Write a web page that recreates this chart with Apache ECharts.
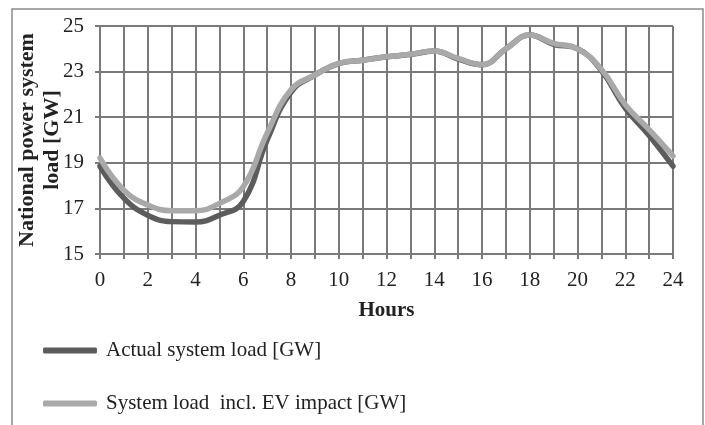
<!DOCTYPE html>
<html>
<head>
<meta charset="utf-8">
<script src="https://cdn.jsdelivr.net/npm/echarts@6/dist/echarts.min.js"></script>
<style>html,body{margin:0;padding:0;background:#fff}#c{width:705px;height:425px}</style>
</head>
<body>
<div id="c"></div>
<script>
var hours = [0,1,2,3,4,5,6,7,8,9,10,11,12,13,14,15,16,17,18,19,20,21,22,23,24];
var actualLoad = [18.85,17.45,16.7,16.42,16.4,16.7,17.3,20.0,22.1,22.85,23.35,23.5,23.65,23.75,23.9,23.55,23.3,24.0,24.6,24.2,24.0,23.05,21.4,20.2,18.85];
var evLoad = [19.2,17.8,17.15,16.9,16.9,17.22,17.95,20.3,22.2,22.85,23.36,23.5,23.65,23.76,23.9,23.58,23.3,24.0,24.6,24.24,24.0,23.1,21.55,20.45,19.3];
var seriesNames = ['Actual system load [GW]', 'System load  incl. EV impact [GW]'];

var F = '"Liberation Serif", "DejaVu Serif", serif';
var grid = '#7a7a7a';
function pairs(vals){ return hours.map(function(h,i){ return [h, vals[i]]; }); }

var chart = echarts.init(document.getElementById('c'), null, {renderer:'canvas'});
chart.setOption({
  animation: false,
  backgroundColor: '#fff',
  graphic: [{
    type: 'rect', shape: {x: 12, y: 9, width: 691, height: 430},
    style: {fill: 'none', stroke: '#8a8a8a', lineWidth: 1.5}, z: -1
  }],
  grid: {left: 100, right: 32, top: 26, bottom: 171, containLabel: false, outerBoundsMode: 'none'},
  xAxis: {
    type: 'value', min: 0, max: 24, interval: 1,
    name: 'Hours', nameLocation: 'middle', nameGap: 46, nameMoveOverlap: false,
    nameTextStyle: {fontFamily: F, fontWeight: 'bold', fontSize: 21, color: '#222'},
    axisLine: {show: true, lineStyle: {color: grid, width: 2}},
    axisTick: {show: true, length: 5, lineStyle: {color: grid, width: 2}},
    axisLabel: {fontFamily: F, fontSize: 21, color: '#222', margin: 16,
      formatter: function(v){ return v % 2 === 0 ? String(v) : ''; }},
    splitLine: {show: true, lineStyle: {color: grid, width: 2}}
  },
  yAxis: {
    type: 'value', min: 15, max: 25, interval: 2,
    name: 'National power system\nload [GW]', nameLocation: 'middle', nameGap: 35, nameRotate: 90,
    nameMoveOverlap: false,
    nameTextStyle: {fontFamily: F, fontWeight: 'bold', fontSize: 22, color: '#222', lineHeight: 25},
    axisLine: {show: true, lineStyle: {color: grid, width: 2}},
    axisTick: {show: true, length: 5, lineStyle: {color: grid, width: 2}},
    axisLabel: {fontFamily: F, fontSize: 21, color: '#222', margin: 16},
    splitLine: {show: true, lineStyle: {color: grid, width: 2}}
  },
  legend: {
    orient: 'vertical', left: 38, top: 335, itemGap: 32,
    itemWidth: 54, itemHeight: 6, icon: 'roundRect',
    textStyle: {fontFamily: F, fontSize: 21, color: '#222', padding: [0,0,0,4]},
    data: seriesNames
  },
  series: [
    {name: seriesNames[0], type: 'line', data: pairs(actualLoad), smooth: 0.45,
     symbol: 'none', z: 2, color: '#5c5c5c',
     lineStyle: {color: '#5c5c5c', width: 5.5, cap: 'round'}},
    {name: seriesNames[1], type: 'line', data: pairs(evLoad), smooth: 0.45,
     symbol: 'none', z: 3, color: '#a9a9a9',
     lineStyle: {color: '#a9a9a9', width: 5.5, cap: 'round'}}
  ]
});
</script>
</body>
</html>
